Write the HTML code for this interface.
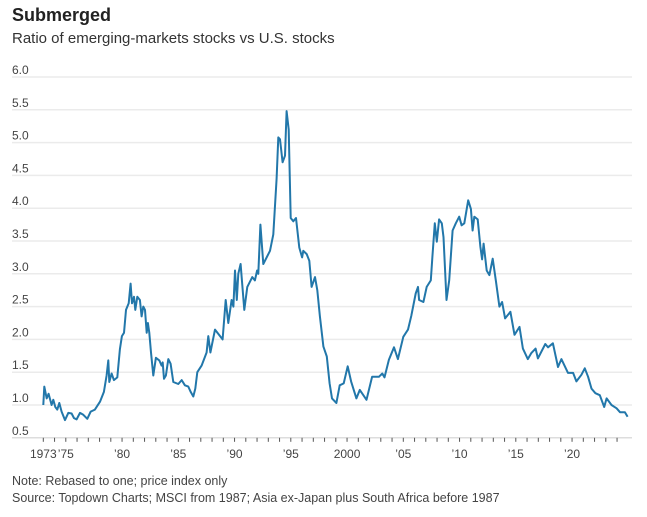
<!DOCTYPE html>
<html><head><meta charset="utf-8"><style>
body{margin:0;background:#fff;font-family:"Liberation Sans",sans-serif;color:#222}
#wrap{position:relative;width:647px;height:517px;overflow:hidden}
.t{position:absolute;left:12px;white-space:nowrap}
</style></head><body>
<div id="wrap">
<div class="t" style="top:5px;font-size:18px;font-weight:bold;color:#222">Submerged</div>
<div class="t" style="top:30px;font-size:15px;color:#333">Ratio of emerging-markets stocks vs U.S. stocks</div>
<svg id="chart" width="647" height="470" style="position:absolute;left:0;top:0"></svg>
<div class="t" style="top:474px;font-size:12.5px;color:#444">Note: Rebased to one; price index only</div>
<div class="t" style="top:491px;font-size:12.5px;color:#444">Source: Topdown Charts; MSCI from 1987; Asia ex-Japan plus South Africa before 1987</div>
</div>
<script>
const years=[1973.0,1973.09,1973.30,1973.47,1973.74,1973.89,1974.07,1974.24,1974.42,1974.63,1974.93,1975.22,1975.52,1975.73,1975.96,1976.26,1976.56,1976.91,1977.21,1977.59,1978.04,1978.39,1978.63,1978.78,1978.87,1979.07,1979.28,1979.58,1979.81,1979.99,1980.17,1980.35,1980.59,1980.76,1980.88,1981.06,1981.18,1981.36,1981.59,1981.74,1981.89,1982.04,1982.19,1982.30,1982.42,1982.57,1982.78,1983.01,1983.31,1983.52,1983.61,1983.73,1983.90,1984.11,1984.32,1984.56,1985.0,1985.30,1985.59,1985.89,1986.10,1986.33,1986.51,1986.69,1987.07,1987.52,1987.67,1987.85,1988.26,1988.94,1989.21,1989.44,1989.74,1989.9,1990.04,1990.2,1990.33,1990.54,1990.87,1991.13,1991.58,1991.81,1992.0,1992.11,1992.3,1992.56,1993.15,1993.44,1993.74,1993.89,1994.04,1994.27,1994.48,1994.63,1994.81,1994.99,1995.22,1995.46,1995.76,1996.0,1996.11,1996.41,1996.64,1996.85,1997.15,1997.36,1997.59,1997.9,1998.2,1998.45,1998.66,1999.05,1999.35,1999.7,2000.06,2000.36,2000.83,2001.13,2001.73,2002.23,2002.83,2003.13,2003.33,2003.72,2004.17,2004.52,2005.0,2005.42,2005.71,2006.1,2006.31,2006.4,2006.79,2007.08,2007.44,2007.59,2007.8,2007.98,2008.18,2008.42,2008.57,2008.84,2009.08,2009.38,2009.67,2009.97,2010.18,2010.42,2010.77,2011.01,2011.16,2011.31,2011.61,2011.85,2012.0,2012.14,2012.41,2012.65,2012.95,2013.24,2013.54,2013.78,2014.05,2014.52,2014.88,2015.33,2015.63,2016.07,2016.37,2016.76,2016.96,2017.62,2017.86,2018.3,2018.75,2019.05,2019.64,2020.09,2020.39,2020.83,2021.13,2021.43,2021.73,2022.08,2022.47,2022.86,2023.07,2023.51,2023.96,2024.26,2024.7,2024.94];
const ratios=[1.0,1.28,1.1,1.17,1.0,1.08,0.97,0.93,1.03,0.9,0.77,0.88,0.87,0.8,0.78,0.88,0.85,0.79,0.9,0.93,1.05,1.2,1.45,1.68,1.35,1.48,1.38,1.42,1.85,2.05,2.1,2.45,2.55,2.85,2.55,2.65,2.45,2.65,2.6,2.35,2.5,2.45,2.1,2.25,2.1,1.8,1.45,1.72,1.68,1.6,1.65,1.4,1.45,1.7,1.63,1.35,1.32,1.38,1.3,1.28,1.2,1.13,1.25,1.5,1.6,1.8,2.05,1.8,2.15,2.0,2.6,2.25,2.6,2.5,3.05,2.6,3.0,3.15,2.45,2.8,2.95,2.9,3.05,3.0,3.75,3.15,3.35,3.6,4.45,5.08,5.05,4.7,4.8,5.48,5.2,3.85,3.8,3.85,3.4,3.25,3.35,3.3,3.2,2.8,2.95,2.75,2.35,1.89,1.74,1.33,1.1,1.03,1.3,1.33,1.59,1.36,1.1,1.23,1.08,1.43,1.43,1.48,1.42,1.69,1.88,1.7,2.04,2.15,2.36,2.7,2.8,2.6,2.57,2.8,2.9,3.26,3.77,3.49,3.83,3.77,3.56,2.6,2.9,3.66,3.77,3.87,3.74,3.77,4.12,3.99,3.66,3.87,3.83,3.41,3.22,3.46,3.05,2.98,3.23,2.88,2.5,2.57,2.32,2.42,2.07,2.19,1.86,1.7,1.79,1.86,1.71,1.93,1.88,1.94,1.58,1.7,1.49,1.49,1.36,1.46,1.56,1.43,1.25,1.18,1.15,0.97,1.1,1.0,0.95,0.89,0.89,0.82];
const yTicks=[0.5,1.0,1.5,2.0,2.5,3.0,3.5,4.0,4.5,5.0,5.5,6.0];
const xLabelYears=[1973,1975,1980,1985,1990,1995,2000,2005,2010,2015,2020];
const xLabels=["1973","’75","’80","’85","’90","’95","2000","’05","’10","’15","’20"];
const NS="http://www.w3.org/2000/svg";
const svg=document.getElementById('chart');
const x=yr=>43.3+(yr-1973)*11.25;
const y=v=>437.8-(v-0.5)*65.6;
function mk(tag,attrs){const e=document.createElementNS(NS,tag);for(const k in attrs)e.setAttribute(k,attrs[k]);svg.appendChild(e);return e;}
yTicks.forEach(v=>{
  if(v>0.5){const g=mk('line',{x1:12,x2:632,y1:y(v),y2:y(v),stroke:'#ebebeb','stroke-width':1.5});
  
  }
  const t=mk('text',{x:12,y:y(v)-3,'font-size':12,fill:'#444','font-family':'Liberation Sans, sans-serif'});
  t.textContent=v.toFixed(1);
  
  
});
const ax=mk('line',{x1:12,x2:632,y1:y(0.5),y2:y(0.5),stroke:'#ddd','stroke-width':1.5});


for(let yr=1973;yr<=2024;yr++){
  const tk=mk('line',{x1:x(yr),x2:x(yr),y1:y(0.5),y2:y(0.5)+4,stroke:'#555','stroke-width':1});
  
  
}
xLabelYears.forEach((yr,i)=>{
  const t=mk('text',{x:x(yr),y:458,'font-size':12,fill:'#444','text-anchor':'middle','font-family':'Liberation Sans, sans-serif'});
  t.textContent=xLabels[i];
  
  
});
const d=years.map((yr,i)=>(i?'L':'M')+x(yr).toFixed(1)+','+y(ratios[i]).toFixed(1)).join('');
const p=mk('path',{d:d,fill:'none',stroke:'#2277aa','stroke-width':2,'stroke-linejoin':'round'});


</script>
</body></html>
